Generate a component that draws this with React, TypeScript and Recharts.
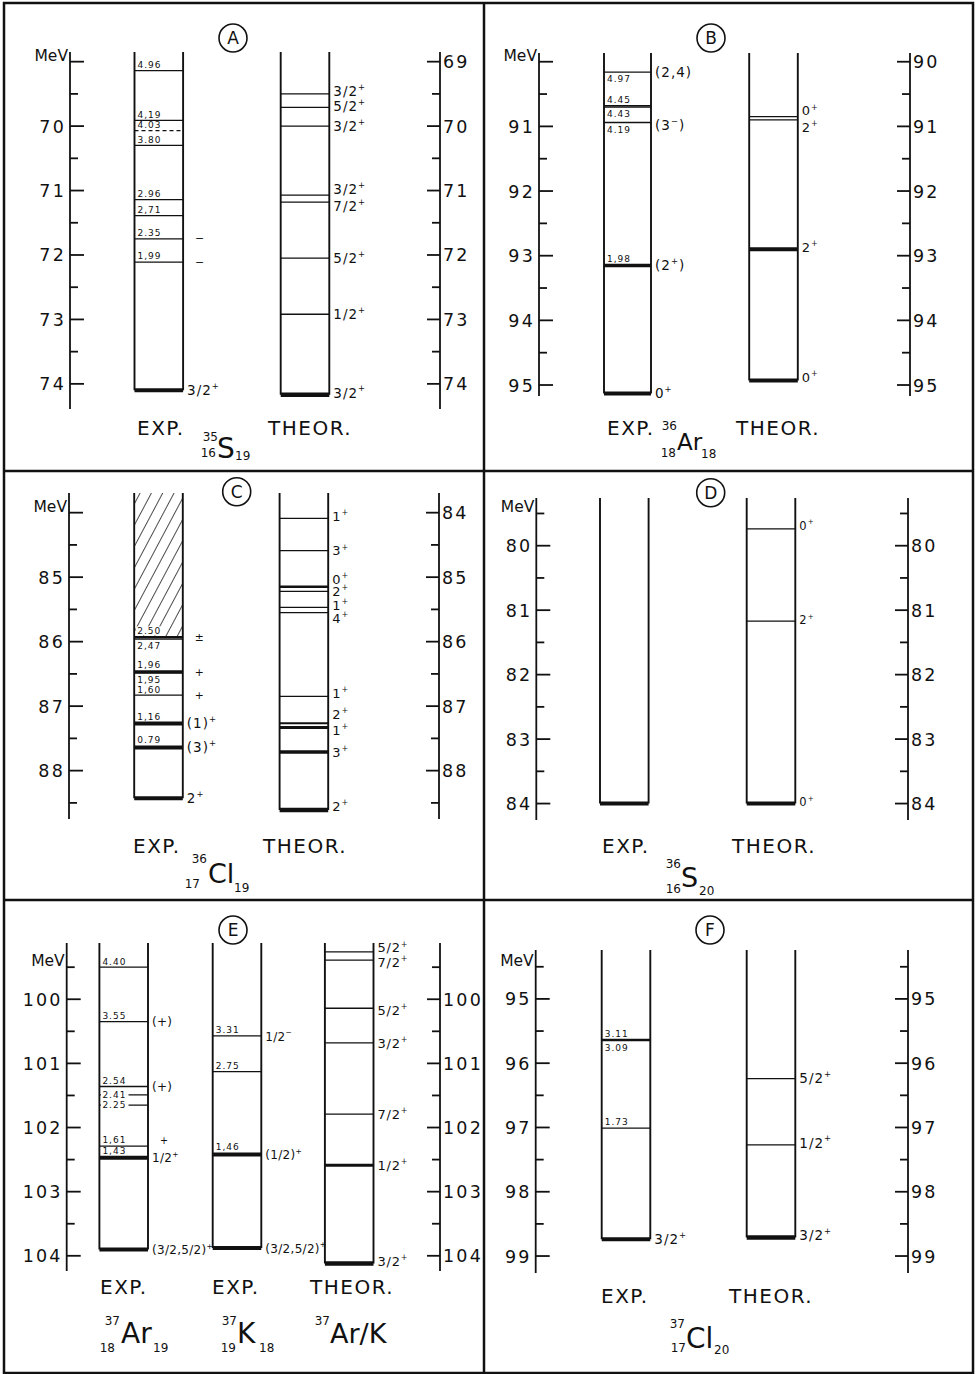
import React from 'react';
import { ComposedChart, Scatter, XAxis, YAxis, ReferenceArea } from 'recharts';

const FONT = '"DejaVu Sans", Verdana, sans-serif';
const INK = '#111';

// ---------- axis ticks (MeV) ----------
const A_TICKS = [69, 69.5, 70, 70.5, 71, 71.5, 72, 72.5, 73, 73.5, 74];
const B_TICKS = [90, 90.5, 91, 91.5, 92, 92.5, 93, 93.5, 94, 94.5, 95];
const C_TICKS = [84, 84.5, 85, 85.5, 86, 86.5, 87, 87.5, 88, 88.5];
const D_TICKS = [79.5, 80, 80.5, 81, 81.5, 82, 82.5, 83, 83.5, 84];
const E_TICKS = [99.5, 100, 100.5, 101, 101.5, 102, 102.5, 103, 103.5, 104];
const F_TICKS = [94.5, 95, 95.5, 96, 96.5, 97, 97.5, 98, 98.5, 99];

// ---------- A : 35S ----------
const A_EXP_GROUND = 74.1;
const A_EXP_EX = [0, 1.99, 2.35, 2.71, 2.96, 3.8, 4.03, 4.19, 4.96];
const A_EXP_TXT = ['', '1,99', '2.35', '2,71', '2.96', '3.80', '4.03', '4,19', '4.96'];
const A_EXP_JP = ['3/2+', '−', '−', '', '', '', '', '', ''];
const A_TH_E = [74.17, 72.92, 72.05, 71.18, 71.07, 70.0, 69.71, 69.5];
const A_TH_JP = ['3/2+', '1/2+', '5/2+', '7/2+', '3/2+', '3/2+', '5/2+', '3/2+'];

// ---------- B : 36Ar ----------
const B_EXP_GROUND = 95.13;
const B_EXP_EX = [0, 1.98, 4.19, 4.43, 4.45, 4.97];
const B_EXP_TXT = ['', '1,98', '4.19', '4.43', '4.45', '4.97'];
const B_EXP_JP = ['0+', '(2+)', '(3−)', '', '', '(2,4)'];
const B_TH_E = [94.93, 92.9, 90.9, 90.85];
const B_TH_JP = ['0+', '2+', '2+', '0+'];

// ---------- C : 36Cl ----------
const C_EXP_GROUND = 88.43;
const C_EXP_EX = [0, 0.79, 1.16, 1.6, 1.95, 1.96, 2.47, 2.5];
const C_EXP_TXT = ['', '0.79', '1,16', '1,60', '1,95', '1,96', '2,47', '2.50'];
const C_EXP_JP = ['2+', '(3)+', '(1)+', '+', '+', '', '', '±'];
const C_TH_E = [88.61, 87.71, 87.33, 87.265, 86.85, 85.55, 85.47, 85.22, 85.15, 84.59, 84.09];
const C_TH_JP = ['2+', '3+', '1+', '2+', '1+', '4+', '1+', '2+', '0+', '3+', '1+'];

// ---------- D : 36S ----------
const D_EXP_GROUND = 84.0;
const D_EXP_EX = [0];
const D_TH_E = [84.0, 81.17, 79.74];
const D_TH_JP = ['0+', '2+', '0+'];

// ---------- E : 37Ar / 37K ----------
const E_AR_GROUND = 103.9;
const E_AR_EX = [0, 1.43, 1.61, 2.25, 2.41, 2.54, 3.55, 4.4];
const E_AR_TXT = ['', '1,43', '1,61', '2.25', '2.41', '2.54', '3.55', '4.40'];
const E_AR_JP = ['(3/2,5/2)+', '1/2+', '+', '', '', '(+)', '(+)', ''];
const E_K_GROUND = 103.88;
const E_K_EX = [0, 1.46, 2.75, 3.31];
const E_K_TXT = ['', '1,46', '2.75', '3.31'];
const E_K_JP = ['(3/2,5/2)+', '(1/2)+', '', '1/2−'];
const E_TH_E = [104.12, 102.59, 101.79, 100.68, 100.14, 99.39, 99.26];
const E_TH_JP = ['3/2+', '1/2+', '7/2+', '3/2+', '5/2+', '7/2+', '5/2+'];

// ---------- F : 37Cl ----------
const F_EXP_GROUND = 98.74;
const F_EXP_EX = [0, 1.73, 3.09, 3.11];
const F_EXP_TXT = ['', '1.73', '3.09', '3.11'];
const F_EXP_JP = ['3/2+', '', '', ''];
const F_TH_E = [98.71, 97.27, 96.24];
const F_TH_JP = ['3/2+', '1/2+', '5/2+'];

const expE = (ground: number, ex: number[]) => ex.map((v) => +(ground - v).toFixed(3));

type ColStyle = {
  bold?: Record<number, number>;
  dash?: number[];
  below?: number[];
  on?: number[];
  bg?: number[];
  jdy?: Record<number, number>;
};

type Col = {
  cx: number;
  hw?: number;
  e: number[];
  txt?: string[];
  jp: string[];
  st: ColStyle;
  fs: number;
  ls: number;
  hatch?: boolean;
};

type Txt = [string, number, number, number, ('start' | 'middle' | 'end')?, number?];

type Panel = {
  id: string;
  frame: [number, number, number, number];
  axis: { l: number; r: number; t: number; b: number };
  domain: [number, number];
  ticks: number[];
  mev: number;
  circle: [number, number];
  cols: Col[];
  texts: Txt[];
};

const PANELS: Panel[] = [
  {
    id: 'A', frame: [4, 3, 480, 468], axis: { l: 70, r: 440, t: 52, b: 409 },
    domain: [68.85, 74.39], ticks: A_TICKS, mev: 69, circle: [233, 38],
    cols: [
      { cx: 158.8, e: expE(A_EXP_GROUND, A_EXP_EX), txt: A_EXP_TXT, jp: A_EXP_JP, st: { bold: { 0: 4 }, dash: [6] }, fs: 13.5, ls: 1 },
      { cx: 305, e: A_TH_E, jp: A_TH_JP, st: { bold: { 0: 4.5 }, jdy: { 0: -2, 3: 4, 4: -6, 6: -1, 7: -3 } }, fs: 13.5, ls: 1 },
    ],
    texts: [
      ['EXP.', 137, 435, 20, 'start', 1.5], ['THEOR.', 268, 435, 20, 'start', 1.5],
      ['35', 218, 441, 12, 'end'], ['16', 216, 457, 12, 'end'], ['S', 217, 458, 28], ['19', 235, 460, 12],
    ],
  },
  {
    id: 'B', frame: [484, 3, 489, 468], axis: { l: 539, r: 910, t: 53, b: 396 },
    domain: [89.865, 95.17], ticks: B_TICKS, mev: 90, circle: [711, 38],
    cols: [
      { cx: 627.5, hw: 23.5, e: expE(B_EXP_GROUND, B_EXP_EX), txt: B_EXP_TXT, jp: B_EXP_JP, st: { bold: { 0: 4, 1: 3.5 }, below: [2, 3, 5], jdy: { 2: 3 } }, fs: 13.5, ls: 1 },
      { cx: 773.5, e: B_TH_E, jp: B_TH_JP, st: { bold: { 0: 4, 1: 4 }, jdy: { 0: -3, 1: -2, 2: 7.5, 3: -6 } }, fs: 13, ls: 1 },
    ],
    texts: [
      ['EXP.', 607, 435, 20, 'start', 1.5], ['THEOR.', 736, 435, 20, 'start', 1.5],
      ['36', 677, 430, 12, 'end'], ['18', 676, 457, 12, 'end'], ['Ar', 677, 450, 23], ['18', 701, 458, 12],
    ],
  },
  {
    id: 'C', frame: [4, 471, 480, 429], axis: { l: 69, r: 439, t: 493, b: 819 },
    domain: [83.695, 88.75], ticks: C_TICKS, mev: 84, circle: [236.7, 491.7],
    cols: [
      { cx: 158.5, e: expE(C_EXP_GROUND, C_EXP_EX), txt: C_EXP_TXT, jp: C_EXP_JP, st: { bold: { 0: 4, 1: 4, 2: 4, 5: 3.5, 7: 2.5 }, below: [4, 6], bg: [7] }, fs: 13.5, ls: 1, hatch: true },
      { cx: 303.9, e: C_TH_E, jp: C_TH_JP, st: { bold: { 0: 4.5, 1: 3.5, 2: 3, 3: 2, 8: 2.5 }, jdy: { 0: -4, 2: 3, 3: -9, 4: -3, 5: 6, 6: -2, 7: 0, 8: -8, 10: -2 } }, fs: 13, ls: 1 },
    ],
    texts: [
      ['EXP.', 133, 853, 20, 'start', 1.5], ['THEOR.', 263, 853, 20, 'start', 1.5],
      ['36', 207, 863, 12, 'end'], ['17', 200, 888, 12, 'end'], ['Cl', 208, 883, 27], ['19', 234, 892, 12],
    ],
  },
  {
    id: 'D', frame: [484, 471, 489, 429], axis: { l: 536.3, r: 908, t: 498, b: 820 },
    domain: [79.26, 84.255], ticks: D_TICKS, mev: 79.5, circle: [710.7, 492.7],
    cols: [
      { cx: 624.3, e: expE(D_EXP_GROUND, D_EXP_EX), jp: [''], st: { bold: { 0: 4 } }, fs: 11.5, ls: 1 },
      { cx: 771, e: D_TH_E, jp: D_TH_JP, st: { bold: { 0: 4 }, jdy: { 0: -2, 1: -2, 2: -4 } }, fs: 11.5, ls: 1 },
    ],
    texts: [
      ['EXP.', 602, 853, 20, 'start', 1.5], ['THEOR.', 732, 853, 20, 'start', 1.5],
      ['36', 681, 868, 12, 'end'], ['16', 681, 893, 12, 'end'], ['S', 681, 887, 27], ['20', 699, 895, 12],
    ],
  },
  {
    id: 'E', frame: [4, 900, 480, 473], axis: { l: 66.7, r: 440, t: 943, b: 1271 },
    domain: [99.123, 104.237], ticks: E_TICKS, mev: 99.5, circle: [233, 930],
    cols: [
      { cx: 123.7, e: expE(E_AR_GROUND, E_AR_EX), txt: E_AR_TXT, jp: E_AR_JP, st: { bold: { 0: 4, 1: 4 }, on: [3, 4], jdy: { 2: -6 } }, fs: 12, ls: 0.3 },
      { cx: 237, e: expE(E_K_GROUND, E_K_EX), txt: E_K_TXT, jp: E_K_JP, st: { bold: { 0: 4, 1: 4 } }, fs: 12, ls: 0.3 },
      { cx: 349.2, e: E_TH_E, jp: E_TH_JP, st: { bold: { 0: 4.5, 1: 3 }, jdy: { 0: -2, 4: 2, 5: 2, 6: -4 } }, fs: 13, ls: 0.8 },
    ],
    texts: [
      ['EXP.', 100, 1294, 20, 'start', 1.5], ['EXP.', 212, 1294, 20, 'start', 1.5], ['THEOR.', 310, 1294, 20, 'start', 1.5],
      ['37', 120, 1325, 12, 'end'], ['18', 115, 1352, 12, 'end'], ['Ar', 121, 1343, 28], ['19', 153, 1352, 12],
      ['37', 237, 1325, 12, 'end'], ['19', 236, 1352, 12, 'end'], ['K', 237, 1343, 28], ['18', 259, 1352, 12],
      ['37', 330, 1325, 12, 'end'], ['Ar/K', 330, 1343, 27],
    ],
  },
  {
    id: 'F', frame: [484, 900, 489, 473], axis: { l: 535.7, r: 908, t: 950, b: 1273 },
    domain: [94.239, 99.264], ticks: F_TICKS, mev: 94.5, circle: [710, 930],
    cols: [
      { cx: 626, e: expE(F_EXP_GROUND, F_EXP_EX), txt: F_EXP_TXT, jp: F_EXP_JP, st: { bold: { 0: 4 }, below: [2] }, fs: 13.5, ls: 1 },
      { cx: 771, e: F_TH_E, jp: F_TH_JP, st: { bold: { 0: 4.5 }, jdy: { 0: -2, 1: -2 } }, fs: 13.5, ls: 1 },
    ],
    texts: [
      ['EXP.', 601, 1303, 20, 'start', 1.5], ['THEOR.', 729, 1303, 20, 'start', 1.5],
      ['37', 685, 1328, 12, 'end'], ['17', 686, 1352, 12, 'end'], ['Cl', 686, 1348, 28], ['20', 714, 1354, 12],
    ],
  },
];

const HW = 24.3;
const LW = 30;
const RW = 30;

function levels(c: Col) {
  const st = c.st;
  return c.e.map((y, i) => ({
    x: c.cx,
    y,
    txt: c.txt ? c.txt[i] : '',
    jp: c.jp[i] || '',
    sw: st.bold && st.bold[i] ? st.bold[i] : 1.3,
    dash: !!(st.dash && st.dash.includes(i)),
    pos: st.below && st.below.includes(i) ? 'below' : st.on && st.on.includes(i) ? 'on' : 'above',
    bg: !!(st.bg && st.bg.includes(i)),
    jdy: st.jdy && st.jdy[i] ? st.jdy[i] : 0,
    hw: c.hw || HW,
    fs: c.fs,
    ls: c.ls,
  }));
}

function spinParts(s: string, fs: number) {
  const out: any[] = [];
  let raised = false;
  for (let i = 0; i < s.length; i++) {
    const ch = s[i];
    const sup = (ch === '+' || ch === '−') && i > 0 && /[0-9)]/.test(s[i - 1]);
    if (sup) {
      out.push(<tspan key={i} dy={-fs * 0.45} fontSize={fs * 0.62}>{ch}</tspan>);
      raised = true;
    } else {
      out.push(<tspan key={i} dy={raised ? fs * 0.45 : 0}>{ch}</tspan>);
      raised = false;
    }
  }
  return out;
}

function Level(props: any) {
  const { cx, cy, payload: p } = props;
  if (cx == null || cy == null || !p) return null;
  const x1 = cx - p.hw;
  const x2 = cx + p.hw;
  let ty = cy - p.sw / 2 - 2;
  if (p.pos === 'below') ty = cy + p.sw / 2 + 9.5;
  if (p.pos === 'on') ty = cy + 3.2;
  const lone = p.jp.length === 1;
  return (
    <g>
      <line x1={x1} x2={x2} y1={cy} y2={cy} stroke={INK} strokeWidth={p.sw} strokeDasharray={p.dash ? '4 3' : undefined} />
      {p.txt && (p.pos === 'on' || p.bg) ? (
        <rect x={x1 + 1.5} y={ty - 7.5} width={p.txt.length * 6.4 + 2} height={9} fill="#fff" />
      ) : null}
      {p.txt ? (
        <text x={x1 + 3} y={ty} fontSize={9} letterSpacing={1} fontFamily={FONT} fill={INK}>{p.txt}</text>
      ) : null}
      {p.jp ? (
        <text x={x2 + (lone ? 12 : 4)} y={cy + (lone ? 3.5 : 4.7) + p.jdy} fontSize={lone ? p.fs * 0.8 : p.fs} letterSpacing={p.ls} fontFamily={FONT} fill={INK}>
          {lone ? p.jp : spinParts(p.jp, p.fs)}
        </text>
      ) : null}
    </g>
  );
}

function Sides(props: any) {
  const { x, y, width, height } = props;
  return (
    <g>
      <line x1={x} x2={x} y1={y} y2={y + height} stroke={INK} strokeWidth={1.9} />
      <line x1={x + width} x2={x + width} y1={y} y2={y + height} stroke={INK} strokeWidth={1.9} />
    </g>
  );
}

function leftTick(mev: number) {
  return (props: any) => {
    const { x, y, payload } = props;
    const v = payload.value;
    const major = Number.isInteger(v);
    return (
      <g>
        <line x1={x} x2={x + (major ? 14 : 8)} y1={y} y2={y} stroke={INK} strokeWidth={1.8} />
        {v === mev ? (
          <text x={x - 2} y={y - 1} textAnchor="end" fontSize={15.5} fontFamily={FONT} fill={INK}>MeV</text>
        ) : major ? (
          <text x={x - 4} y={y + 6.5} textAnchor="end" fontSize={17.5} letterSpacing={2.2} fontFamily={FONT} fill={INK}>{v}</text>
        ) : null}
      </g>
    );
  };
}

function rightTick(props: any) {
  const { x, y, payload } = props;
  const v = payload.value;
  const major = Number.isInteger(v);
  return (
    <g>
      <line x1={x - (major ? 13 : 8)} x2={x} y1={y} y2={y} stroke={INK} strokeWidth={1.8} />
      {major ? (
        <text x={x + 3} y={y + 6.5} fontSize={17.5} letterSpacing={2.2} fontFamily={FONT} fill={INK}>{v}</text>
      ) : null}
    </g>
  );
}

function LevelPanel({ p }: { p: Panel }) {
  const [fx, fy, fw, fh] = p.frame;
  const { l, r, t, b } = p.axis;
  const margin = { top: t - fy, bottom: fy + fh - b, left: l - fx - LW, right: fx + fw - r - RW };
  return (
    <div style={{ position: 'absolute', left: fx, top: fy, width: fw, height: fh }}>
      <ComposedChart width={fw} height={fh} margin={margin}>
        <XAxis type="number" dataKey="x" domain={[l, r]} hide />
        <YAxis
          yAxisId="l" type="number" dataKey="y" domain={p.domain} reversed
          ticks={p.ticks} interval={0} width={LW} tickSize={0} tickMargin={0} tickLine={false}
          axisLine={{ stroke: INK, strokeWidth: 1.8 }} tick={leftTick(p.mev)}
        />
        <YAxis
          yAxisId="r" orientation="right" type="number" dataKey="y" domain={p.domain} allowDataOverflow reversed
          ticks={p.ticks} interval={0} width={RW} tickSize={0} tickMargin={0} tickLine={false}
          axisLine={{ stroke: INK, strokeWidth: 1.8 }} tick={rightTick}
        />
        {p.cols.map((c, i) => {
          const hw = c.hw || HW;
          const ground = Math.max(...c.e);
          return (
            <ReferenceArea
              key={'s' + i} yAxisId="l" x1={c.cx - hw} x2={c.cx + hw} y1={ground} y2={p.domain[0]}
              ifOverflow="visible" shape={<Sides />}
            />
          );
        })}
        {p.cols.filter((c) => c.hatch).map((c, i) => {
          const hw = c.hw || HW;
          return (
            <ReferenceArea
              key={'h' + i} yAxisId="l" x1={c.cx - hw} x2={c.cx + hw} y1={Math.min(...c.e)} y2={p.domain[0]}
              ifOverflow="visible" fill="url(#hatch)" fillOpacity={1} stroke="none"
            />
          );
        })}
        {p.cols.map((c, i) => (
          <Scatter key={'c' + i} yAxisId="l" data={levels(c)} shape={(sp: any) => <Level {...sp} />} isAnimationActive={false} />
        ))}
      </ComposedChart>
    </div>
  );
}

export default function App() {
  return (
    <div style={{ position: 'absolute', left: 0, top: 0, width: 977, height: 1374, background: '#fff', fontFamily: FONT }}>
      <svg width={977} height={1374} style={{ position: 'absolute', left: 0, top: 0 }}>
        <defs>
          <pattern id="hatch" width={10} height={10} patternUnits="userSpaceOnUse" patternTransform="rotate(28)">
            <line x1={0} y1={0} x2={0} y2={10} stroke={INK} strokeWidth={1.5} />
          </pattern>
        </defs>
        <rect x={4} y={3} width={969} height={1370} fill="none" stroke={INK} strokeWidth={2.5} />
        <line x1={484} x2={484} y1={3} y2={1373} stroke={INK} strokeWidth={2.5} />
        <line x1={4} x2={973} y1={471} y2={471} stroke={INK} strokeWidth={2.5} />
        <line x1={4} x2={973} y1={900} y2={900} stroke={INK} strokeWidth={2.5} />
        {PANELS.map((p) => (
          <g key={p.id}>
            <circle cx={p.circle[0]} cy={p.circle[1]} r={14} fill="none" stroke={INK} strokeWidth={1.6} />
            <text x={p.circle[0]} y={p.circle[1] + 6} textAnchor="middle" fontSize={17} fontFamily={FONT} fill={INK}>{p.id}</text>
            {p.texts.map((tx, i) => (
              <text key={i} x={tx[1]} y={tx[2]} fontSize={tx[3]} textAnchor={tx[4] || 'start'} letterSpacing={tx[5] || 0} fontFamily={FONT} fill={INK}>
                {tx[0]}
              </text>
            ))}
          </g>
        ))}
      </svg>
      {PANELS.map((p) => (
        <LevelPanel key={p.id} p={p} />
      ))}
    </div>
  );
}
